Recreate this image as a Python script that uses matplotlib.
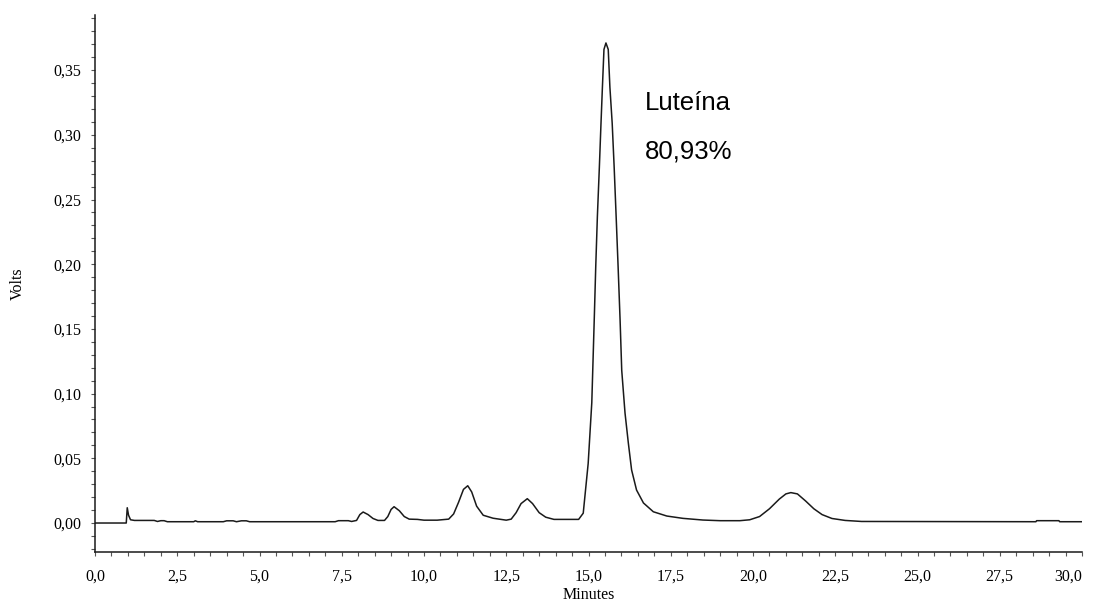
import matplotlib
matplotlib.use("Agg")
import matplotlib.pyplot as plt
from matplotlib.ticker import FixedLocator, MultipleLocator

# Digitized chromatogram (minutes, volts)
time_min = [0.0, 0.95, 0.98, 1.02, 1.08, 1.2, 1.8, 1.9, 2.0, 2.1, 2.2, 3.0, 3.05, 3.12,
            3.9, 4.0, 4.2, 4.3, 4.45, 4.6, 4.7, 7.3, 7.4, 7.7, 7.8, 7.95, 8.05, 8.15,
            8.3, 8.45, 8.6, 8.8, 8.9, 9.0, 9.09, 9.25, 9.4, 9.55, 9.8, 10.0, 10.4,
            10.75, 10.9, 11.05, 11.2, 11.33, 11.45, 11.6, 11.8, 12.1, 12.5, 12.65,
            12.8, 12.95, 13.14, 13.3, 13.5, 13.7, 13.95, 14.7, 14.84, 14.99, 15.1,
            15.18, 15.22, 15.27, 15.33, 15.38, 15.42, 15.47, 15.53, 15.6, 15.65,
            15.72, 15.78, 15.84, 15.9, 15.96, 16.01, 16.11, 16.21, 16.31, 16.46,
            16.67, 16.97, 17.38, 17.87, 18.48, 19.0, 19.6, 19.9, 20.2, 20.5, 20.8,
            21.0, 21.15, 21.35, 21.6, 21.85, 22.1, 22.4, 22.8, 23.3, 28.6, 28.62,
            29.3, 29.32, 30.0]
volts = [0.0, 0.0, 0.0118, 0.006, 0.0025, 0.002, 0.002, 0.0012, 0.0018, 0.0018, 0.001,
         0.001, 0.0017, 0.001, 0.001, 0.0017, 0.0017, 0.001, 0.0017, 0.0017, 0.001,
         0.001, 0.0018, 0.0018, 0.0012, 0.002, 0.0065, 0.0085, 0.0065, 0.0035, 0.002,
         0.002, 0.005, 0.0105, 0.0126, 0.0095, 0.005, 0.003, 0.0028, 0.0022, 0.0022,
         0.003, 0.007, 0.016, 0.026, 0.0288, 0.024, 0.013, 0.006, 0.0037, 0.0022,
         0.003, 0.008, 0.015, 0.0188, 0.015, 0.008, 0.0045, 0.0028, 0.0028, 0.0076,
         0.046, 0.093, 0.162, 0.198, 0.237, 0.275, 0.309, 0.335, 0.366, 0.371, 0.366,
         0.337, 0.309, 0.275, 0.237, 0.198, 0.157, 0.118, 0.085, 0.062, 0.041, 0.0255,
         0.0155, 0.0087, 0.0054, 0.0036, 0.0023, 0.0018, 0.0018, 0.0025, 0.005, 0.011,
         0.0185, 0.0225, 0.0235, 0.0225, 0.017, 0.011, 0.0065, 0.0035, 0.002, 0.0012,
         0.001, 0.0018, 0.0018, 0.001, 0.001]

x_ticks = [0.0, 2.5, 5.0, 7.5, 10.0, 12.5, 15.0, 17.5, 20.0, 22.5, 25.0, 27.5, 30.0]
x_tick_labels = ["0,0", "2,5", "5,0", "7,5", "10,0", "12,5", "15,0", "17,5", "20,0",
                 "22,5", "25,0", "27,5", "30,0"]
y_ticks = [0.0, 0.05, 0.10, 0.15, 0.20, 0.25, 0.30, 0.35]
y_tick_labels = ["0,00", "0,05", "0,10", "0,15", "0,20", "0,25", "0,30", "0,35"]
annotation_lines = ["Luteína", "80,93%"]

fig = plt.figure(figsize=(10.99, 6.02), dpi=100)
ax = fig.add_axes([95 / 1099, 50 / 602, (1082 - 95) / 1099, (552 - 15) / 602])

ax.plot(time_min, volts, color="#1a1a1a", linewidth=1.1)

ax.set_xlim(0, 30)
ax.set_ylim(-0.0224, 0.3926)

for s in ["top", "right"]:
    ax.spines[s].set_visible(False)
for s in ["left", "bottom"]:
    ax.spines[s].set_linewidth(1.1)
    ax.spines[s].set_color("#1a1a1a")

ax.xaxis.set_major_locator(FixedLocator(x_ticks))
ax.set_xticklabels(x_tick_labels, fontfamily="Liberation Serif", fontsize=11.5)
ax.xaxis.set_minor_locator(MultipleLocator(0.5))
ax.yaxis.set_major_locator(FixedLocator(y_ticks))
ax.set_yticklabels(y_tick_labels, fontfamily="Liberation Serif", fontsize=11.5)
ax.yaxis.set_minor_locator(MultipleLocator(0.01))

ax.tick_params(axis="both", which="both", length=3, width=0.8, color="#555555")
ax.tick_params(axis="x", which="major", pad=9)
ax.tick_params(axis="y", which="major", pad=7)

lbls = ax.get_xticklabels()
lbls[-1].set_horizontalalignment("right")

ax.set_xlabel("Minutes", fontfamily="Liberation Serif", fontsize=11.5, labelpad=1.5)
ax.set_ylabel("Volts", fontfamily="Liberation Serif", fontsize=11.5, labelpad=20)

ax.text(16.7, 0.319, annotation_lines[0], fontfamily="Liberation Sans", fontsize=18.5,
        ha="left", va="baseline")
ax.text(16.7, 0.2815, annotation_lines[1], fontfamily="Liberation Sans", fontsize=18.5,
        ha="left", va="baseline")

fig.savefig("out.png", dpi=100, facecolor="white")
